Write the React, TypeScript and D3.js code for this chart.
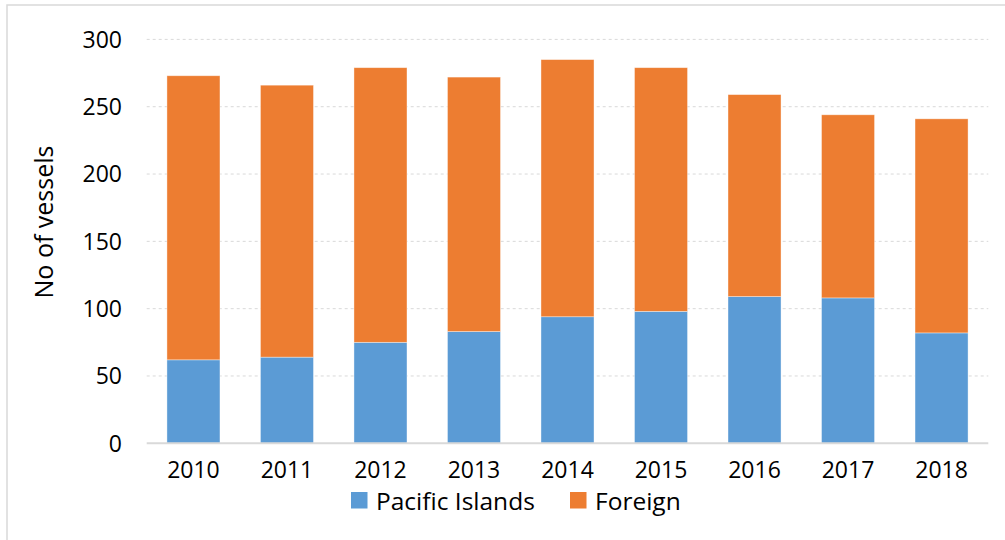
import React from "react";
import * as d3 from "d3";

const years = ["2010", "2011", "2012", "2013", "2014", "2015", "2016", "2017", "2018"];
const pacific = [62, 64, 75, 83, 94, 98, 109, 108, 82];
const totals = [273, 266, 279, 272, 285, 279, 259, 244, 241];
const foreign = totals.map((t, i) => t - pacific[i]);
const yTicks = [0, 50, 100, 150, 200, 250, 300];
const seriesNames = ["Pacific Islands", "Foreign"];
const colors = ["#5B9BD5", "#ED7D31"];

const W = 1005;
const H = 540;
const left = 146.7;
const right = 988.3;
const top = 39.4;
const bottom = 443.3;
const FONT = "'Open Sans', 'Liberation Sans', sans-serif";

export default function App() {
  const x = d3.scaleBand<string>().domain(years).range([left, right]).paddingInner(0.433).paddingOuter(0.2165);
  const y = d3.scaleLinear().domain([0, 300]).range([bottom, top]);
  const stack = d3.stack<any>().keys(["p", "f"]);
  const rows = years.map((yr, i) => ({ yr, p: pacific[i], f: foreign[i] }));
  const layers = stack(rows);

  return (
    <svg width={W} height={H} style={{ position: "absolute", left: 0, top: 0 }} fontFamily={FONT}>
      <rect x={0} y={0} width={W} height={H} fill="#fff" />
      <rect x={7} y={5} width={W + 10} height={H + 10} fill="none" stroke="#d9d9d9" strokeWidth={1.5} />
      {yTicks.filter((t) => t > 0).map((t) => (
        <line key={t} x1={left} x2={right} y1={y(t)} y2={y(t)} stroke="#d9d9d9" strokeWidth={1} strokeDasharray="3,3" />
      ))}
      {layers.map((layer, li) =>
        layer.map((d, i) => (
          <rect
            key={li + "-" + i}
            x={x(years[i])}
            width={x.bandwidth()}
            y={y(d[1])}
            height={y(d[0]) - y(d[1])}
            fill={colors[li]}
            stroke="#fff"
            strokeOpacity={0.5}
            strokeWidth={0.75}
          />
        ))
      )}
      <line x1={left} x2={right} y1={bottom} y2={bottom} stroke="#d9d9d9" strokeWidth={2} />
      {yTicks.map((t) => (
        <text key={t} x={122} y={y(t)} dy="0.36em" textAnchor="end" fontSize={23} fill="#000">
          {t}
        </text>
      ))}
      {years.map((yr) => (
        <text key={yr} x={x(yr)! + x.bandwidth() / 2} y={477.5} textAnchor="middle" fontSize={23} fill="#000">
          {yr}
        </text>
      ))}
      <text transform={`translate(53,222) rotate(-90)`} textAnchor="middle" fontSize={25} fill="#000">
        No of vessels
      </text>
      <g>
        <rect x={351} y={492} width={16.5} height={16.5} fill={colors[0]} />
        <text x={376} y={509.5} fontSize={24.5} fill="#000">{seriesNames[0]}</text>
        <rect x={570} y={492} width={16.5} height={16.5} fill={colors[1]} />
        <text x={595} y={509.5} fontSize={24.5} fill="#000">{seriesNames[1]}</text>
      </g>
    </svg>
  );
}
